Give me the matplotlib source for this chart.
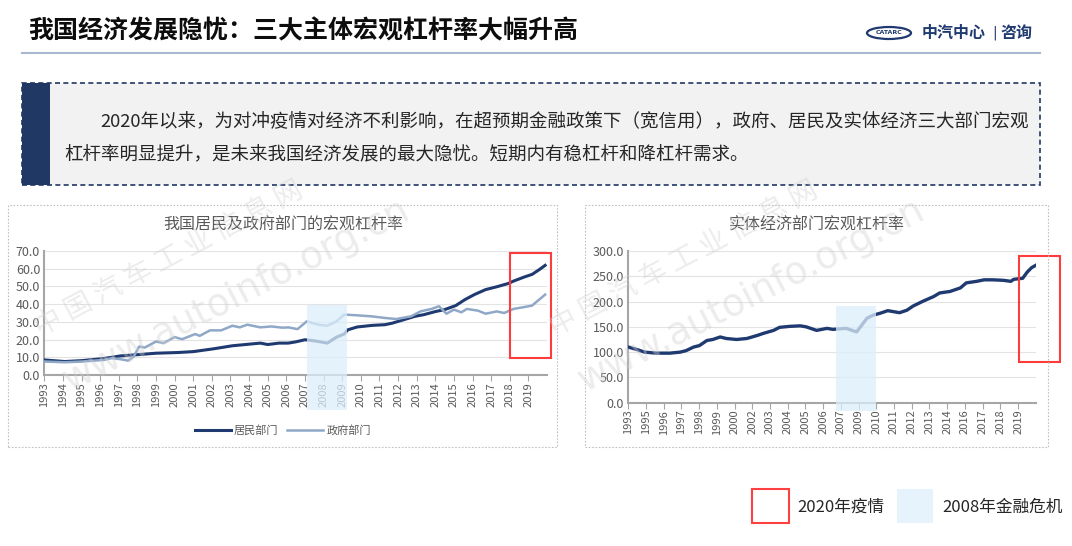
import matplotlib
matplotlib.use('Agg')
import numpy as np
import matplotlib.pyplot as plt
from matplotlib.patches import Rectangle, Ellipse
from matplotlib.lines import Line2D
from matplotlib.ticker import FormatStrFormatter

plt.rcParams['font.family'] = ['Noto Sans CJK SC', 'DejaVu Sans']

# ---- data ----
hh_years = [1993.0, 1994.1, 1995.0, 1996.2, 1997.1, 1997.9, 1999.0, 2000.2, 2001.0, 2002.1,
            2003.1, 2004.0, 2004.6, 2005.0, 2005.6, 2006.1, 2006.5, 2007.0, 2007.5, 2008.2,
            2008.7, 2009.1, 2009.3, 2009.8, 2010.6, 2011.3, 2011.7, 2012.3, 2012.9, 2013.4,
            2014.0, 2014.5, 2015.1, 2015.6, 2016.1, 2016.7, 2017.3, 2017.9, 2018.2, 2018.8,
            2019.2, 2019.6, 2019.9]
hh_vals = [8.5, 7.6, 8.1, 9.3, 10.8, 11.4, 12.3, 12.7, 13.2, 14.8,
           16.5, 17.4, 18.0, 17.2, 18.0, 18.0, 18.7, 19.9, 19.3, 18.0,
           21.4, 23.1, 25.5, 27.1, 28.0, 28.4, 29.3, 31.2, 33.1, 34.1,
           35.8, 36.9, 39.2, 42.6, 45.4, 48.2, 49.8, 51.6, 53.0, 55.4,
           56.8, 59.6, 61.9]

gov_years = [1993.0, 1994.1, 1995.0, 1996.2, 1996.6, 1997.1, 1997.5, 1997.8, 1998.1, 1998.4,
             1999.0, 1999.4, 2000.0, 2000.4, 2001.1, 2001.35, 2001.9, 2002.5, 2003.1, 2003.5,
             2003.9, 2004.6, 2005.2, 2005.8, 2006.1, 2006.6, 2007.1, 2007.7, 2008.2, 2008.7,
             2009.1, 2009.8, 2010.6, 2011.3, 2011.9, 2012.7, 2013.2, 2013.8, 2014.2, 2014.6,
             2015.0, 2015.4, 2015.7, 2016.3, 2016.7, 2017.3, 2017.7, 2018.2, 2018.8, 2019.2,
             2019.9]
gov_vals = [7.6, 7.2, 7.6, 8.5, 9.5, 8.9, 8.1, 10.4, 16.1, 15.5,
            18.9, 18.0, 21.4, 20.2, 23.1, 22.1, 25.2, 25.2, 27.8, 26.9,
            28.4, 26.9, 27.4, 26.7, 26.9, 25.9, 30.3, 28.4, 27.8, 30.3,
            34.1, 33.7, 33.1, 32.2, 31.6, 33.1, 35.9, 37.3, 38.8, 34.6,
            36.9, 35.4, 37.3, 36.3, 34.6, 35.9, 35.0, 37.3, 38.4, 39.2,
            45.4]

ent_years = [1993.0, 1993.6, 1994.1, 1994.9, 1995.8, 1996.5, 1996.9, 1997.4, 1997.8, 1998.3,
             1998.7, 1999.2, 1999.6, 2000.3, 2001.0, 2001.7, 2002.1, 2002.8, 2003.2, 2003.9,
             2004.6, 2005.0, 2005.7, 2006.4, 2006.8, 2007.7, 2008.4, 2009.1, 2009.5, 2010.0,
             2010.5, 2011.3, 2011.8, 2012.2, 2012.9, 2013.6, 2014.0, 2014.7, 2015.4, 2015.8,
             2016.5, 2017.0, 2017.6, 2018.3, 2018.8, 2019.0, 2019.6, 2019.9, 2020.2, 2020.5]
ent_vals = [110, 105, 100, 98, 98, 100, 103, 110, 113, 123,
            125, 130, 127, 125, 127, 133, 137, 143, 149, 151,
            152, 150, 143, 147, 145, 147, 140, 167, 173, 177,
            182, 178, 183, 191, 201, 210, 217, 220, 227, 237,
            240, 243, 243, 242, 240, 244, 246, 258, 267, 272]

left_years = list(range(1993, 2020))
right_labels = ['1993', '1995', '1996', '1997', '1998', '1999', '2000', '2002', '2003', '2004',
                '2005', '2006', '2007', '2009', '2010', '2011', '2012', '2013', '2014', '2016',
                '2017', '2018', '2019']

crisis_left = (2007.1, 2009.26, -19.8, 39.5)
covid_left = (2018.0, 2020.2, 9.8, 69.0)
crisis_right = (2007.0, 2009.7, -15.8, 192)
covid_right = (2019.35, 2022.1, 80, 290)

W, H = 1072, 546
NAVY = '#1f3a70'
LIGHT = '#8fa8c8'
GREY = '#595959'
RED = '#ff3b3b'
SHADE = '#dceefb'


def fx(x):
    return x / W


def fy(y):
    return 1 - y / H


def box(x0, y0, x1, y1):
    return [x0 / W, 1 - y1 / H, (x1 - x0) / W, (y1 - y0) / H]


def fig_rect(x0, y0, x1, y1, **kw):
    fig.add_artist(Rectangle((fx(x0), fy(y1)), (x1 - x0) / W, (y1 - y0) / H,
                             transform=fig.transFigure, **kw))


fig = plt.figure(figsize=(W / 100, H / 100), dpi=100)

# header
fig.text(fx(28), fy(31), '我国经济发展隐忧：三大主体宏观杠杆率大幅升高',
         fontsize=18, fontweight='bold', va='center', color='#0d0d0d')
fig.add_artist(Line2D([fx(22), fx(1040)], [fy(53), fy(53)], color='#a9b7d0', lw=1.5,
                      transform=fig.transFigure))
fig.add_artist(Ellipse((fx(889), fy(33)), 44 / W, 12 / H, transform=fig.transFigure,
                       fill=False, edgecolor=NAVY, lw=1.6))
fig.text(fx(889), fy(33), 'CATARC', fontsize=4.5, ha='center', va='center', color=NAVY,
         family='DejaVu Sans', fontweight='bold')
fig.text(fx(922), fy(33), '中汽中心', fontsize=11.5, fontweight='bold', va='center', color=NAVY)
fig.text(fx(992), fy(33), '|', fontsize=10, va='center', color=NAVY, family='DejaVu Sans')
fig.text(fx(1000), fy(33), '咨询', fontsize=11.5, fontweight='bold', va='center', color=NAVY)

# text box
fig_rect(22, 83, 1040, 185, facecolor='#f2f2f2', edgecolor='#1f3864', lw=1.2, ls=(0, (3, 2)))
fig_rect(22, 83, 50, 185, facecolor='#1f3864', edgecolor='none')
fig.text(fx(100), fy(122), '2020年以来，为对冲疫情对经济不利影响，在超预期金融政策下（宽信用），政府、居民及实体经济三大部门宏观',
         fontsize=13.3, va='center', color='#262626')
fig.text(fx(64), fy(155), '杠杆率明显提升，是未来我国经济发展的最大隐忧。短期内有稳杠杆和降杠杆需求。',
         fontsize=13.3, va='center', color='#262626')

# chart frames
fig_rect(8, 205, 557, 447, fill=False, edgecolor='#c0c0c0', lw=0.8, ls=(0, (1.5, 1.5)))
fig_rect(585, 205, 1048, 447, fill=False, edgecolor='#c0c0c0', lw=0.8, ls=(0, (1.5, 1.5)))


def style_axes(ax):
    for s in ['top', 'right']:
        ax.spines[s].set_visible(False)
    for s in ['left', 'bottom']:
        ax.spines[s].set_color('#a6a6a6')
        ax.spines[s].set_linewidth(1.5)
    ax.grid(axis='y', color='#e3e3e3', lw=0.8)
    ax.set_axisbelow(True)
    ax.tick_params(axis='y', length=0, labelsize=9, labelcolor=GREY, pad=3)
    ax.tick_params(axis='x', length=4, color='#a6a6a6', labelsize=8, labelcolor=GREY,
                   pad=1, labelrotation=90)
    ax.yaxis.set_major_formatter(FormatStrFormatter('%.1f'))


def highlight(ax, crisis, covid):
    x0, x1, y0, y1 = crisis
    ax.add_patch(Rectangle((x0, y0), x1 - x0, y1 - y0, facecolor=SHADE, edgecolor='none',
                           alpha=0.75, clip_on=False, zorder=5))
    x0, x1, y0, y1 = covid
    ax.add_patch(Rectangle((x0, y0), x1 - x0, y1 - y0, fill=False, edgecolor=RED, lw=1.5,
                           clip_on=False, zorder=6))


# left chart
ax1 = fig.add_axes(box(44.3, 251, 547, 375))
ax1.plot(hh_years, hh_vals, color=NAVY, lw=2.2, label='居民部门', zorder=3)
ax1.plot(gov_years, gov_vals, color=LIGHT, lw=1.8, label='政府部门', zorder=3)
ax1.set_xlim(1993, 2020.0)
ax1.set_ylim(0, 70)
ax1.set_yticks(np.arange(0, 71, 10))
ax1.set_xticks(left_years)
ax1.set_xticklabels([str(y) for y in left_years])
style_axes(ax1)
highlight(ax1, crisis_left, covid_left)
fig.text(fx(283), fy(225), '我国居民及政府部门的宏观杠杆率', fontsize=11.5, ha='center',
         va='center', color=GREY)
h, l = ax1.get_legend_handles_labels()
fig.legend(h, l, loc='center', bbox_to_anchor=(fx(283), fy(430)), ncol=2, frameon=False,
           fontsize=8, handlelength=3.2, columnspacing=0.8, handletextpad=0.3,
           labelcolor=GREY)

# right chart
ax2 = fig.add_axes(box(628.3, 251, 1036, 402.7))
ax2.plot(ent_years, ent_vals, color=NAVY, lw=2.4, zorder=3)
ax2.set_xlim(1993, 2020.5)
ax2.set_ylim(0, 300)
ax2.set_yticks(np.arange(0, 301, 50))
ax2.set_xticks(1993 + np.arange(len(right_labels)) * 1.195)
ax2.set_xticklabels(right_labels)
style_axes(ax2)
highlight(ax2, crisis_right, covid_right)
fig.text(fx(817), fy(225), '实体经济部门宏观杠杆率', fontsize=11.5, ha='center',
         va='center', color=GREY)

# bottom legend
fig_rect(752, 489, 789, 523, fill=False, edgecolor='#ff4040', lw=1.5)
fig.text(fx(797), fy(507), '2020年疫情', fontsize=12, va='center', color='#262626')
fig_rect(897, 489, 933, 523, facecolor='#e6f3fd', edgecolor='none')
fig.text(fx(942), fy(507), '2008年金融危机', fontsize=12, va='center', color='#262626')

# watermark
for dx in [0, 515]:
    fig.text(fx(40 + dx), fy(336), '中 国 汽 车 工 业 信 息 网', fontsize=20, rotation=28,
             rotation_mode='anchor', color='#d0d0d0', alpha=0.4, zorder=10)
    fig.text(fx(70 + dx), fy(392), 'www.autoinfo.org.cn', fontsize=27, rotation=27,
             rotation_mode='anchor', color='#d0d0d0', alpha=0.4, zorder=10,
             family='DejaVu Sans')

fig.savefig('out.png', dpi=100)
